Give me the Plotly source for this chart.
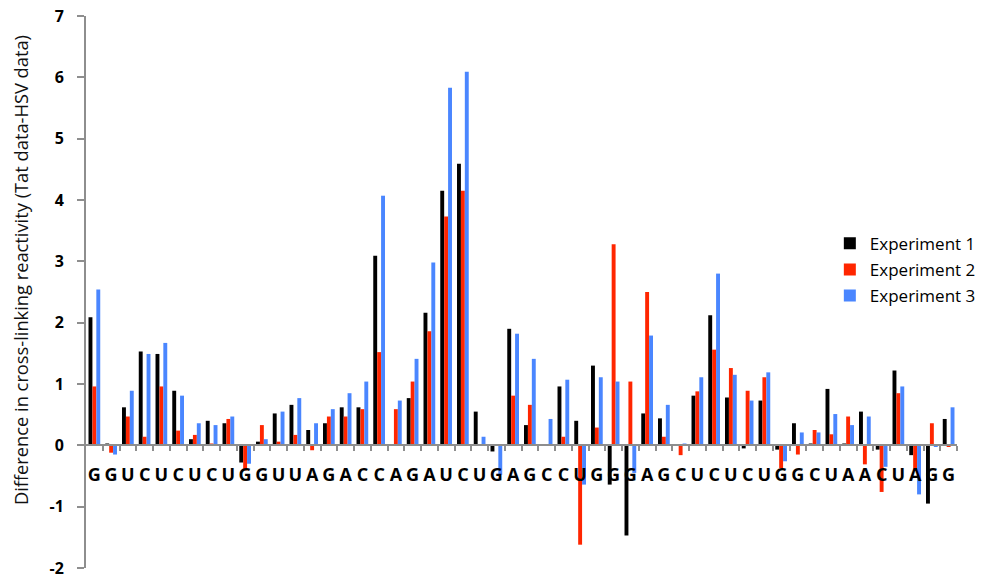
import plotly.graph_objects as go

labels = list("GGUCUCUCUGGUUAGACCAGAUCUGAGCCUGGGAGCUCUCUGGCUAACUAGG")

exp1 = [2.09, 0.03, 0.62, 1.53, 1.49, 0.89, 0.10, 0.40, 0.36, -0.28,
        0.06, 0.52, 0.66, 0.25, 0.36, 0.62, 0.62, 3.09, 0.02, 0.77,
        2.16, 4.15, 4.59, 0.55, -0.10, 1.90, 0.33, 0.02, 0.96, 0.40,
        1.30, -0.64, -1.47, 0.52, 0.44, 0.02, 0.81, 2.12, 0.78, -0.05,
        0.73, -0.07, 0.36, 0.03, 0.92, 0.03, 0.55, -0.07, 1.22, -0.16,
        -0.95, 0.43]
exp2 = [0.96, -0.12, 0.47, 0.14, 0.96, 0.24, 0.17, 0.03, 0.43, -0.41,
        0.33, 0.06, 0.17, -0.08, 0.47, 0.47, 0.59, 1.52, 0.59, 1.04,
        1.86, 3.73, 4.15, 0.02, 0.02, 0.81, 0.66, 0.02, 0.14, -1.62,
        0.29, 3.28, 1.04, 2.50, 0.14, -0.16, 0.88, 1.56, 1.26, 0.89,
        1.11, -0.37, -0.15, 0.25, 0.18, 0.47, -0.31, -0.76, 0.85, -0.42,
        0.36, -0.02]
exp3 = [2.54, -0.15, 0.89, 1.49, 1.67, 0.81, 0.36, 0.33, 0.47, -0.30,
        0.10, 0.55, 0.77, 0.36, 0.59, 0.85, 1.04, 4.07, 0.73, 1.41,
        2.98, 5.83, 6.09, 0.14, -0.48, 1.82, 1.41, 0.43, 1.07, -0.64,
        1.11, 1.04, -0.45, 1.79, 0.66, 0.03, 1.11, 2.80, 1.15, 0.73,
        1.19, -0.26, 0.21, 0.21, 0.51, 0.33, 0.47, -0.35, 0.96, -0.80,
        -0.02, 0.62]

series_names = ["Experiment 1", "Experiment 2", "Experiment 3"]
series_colors = ["#000000", "#ff2600", "#4a86ff"]
y_ticks = [-2, -1, 0, 1, 2, 3, 4, 5, 6, 7]
y_tick_labels = ["-2", "-1", "0", "1", "2", "3", "4", "5", "6", "7"]
y_title = "Difference in cross-linking reactivity (Tat data-HSV data)"
y_min, y_max = -2, 7

x = list(range(len(labels)))
x_range = [-0.5, len(labels) - 0.5]
boundaries = [i + 0.5 for i in x]

fig = go.Figure()
for name, vals, col in zip(series_names, [exp1, exp2, exp3], series_colors):
    fig.add_trace(go.Bar(x=x, y=vals, name=name, marker_color=col,
                         marker_line_width=0, legendgroup=name))
# invisible helper trace so the label axis (x2) is drawn
fig.add_trace(go.Scatter(x=x, y=exp1, xaxis="x2", mode="none",
                         showlegend=False, hoverinfo="skip"))

axis_gray = "#8e8e8e"
zero_pos = (0 - y_min) / (y_max - y_min)
fig.update_layout(
    width=990, height=583,
    margin=dict(l=78, r=41, t=8, b=23),
    plot_bgcolor="white", paper_bgcolor="white",
    barmode="group", bargap=0.3, bargroupgap=0,
    font=dict(family="Open Sans", color="#000000"),
    legend=dict(x=0.854, y=0.62, xanchor="left", yanchor="top",
                font=dict(size=17, family="Open Sans", color="#000"),
                traceorder="grouped", tracegroupgap=1,
                bgcolor="rgba(0,0,0,0)"),
    xaxis=dict(
        range=x_range, automargin=False,
        anchor="free", position=zero_pos,
        tickmode="array", tickvals=boundaries,
        ticktext=["" for _ in boundaries],
        ticks="outside", ticklen=5, tickcolor=axis_gray, tickwidth=2,
        showgrid=False, zeroline=False,
        showline=True, linecolor=axis_gray, linewidth=2,
    ),
    xaxis2=dict(
        range=x_range, overlaying="x", automargin=False,
        anchor="free", position=zero_pos, side="bottom",
        tickmode="array", tickvals=x, ticktext=labels,
        ticks="", showgrid=False, zeroline=False, showline=False,
        tickfont=dict(size=18, family="Open Sans", color="#000", weight=700),
        ticklabelstandoff=17, ticklabeloverflow="allow",
    ),
    yaxis=dict(
        range=[y_min, y_max], automargin=False,
        tickmode="array", tickvals=y_ticks, ticktext=y_tick_labels,
        showgrid=False, zeroline=False,
        showline=True, linecolor=axis_gray, linewidth=2,
        ticks="outside", ticklen=7, tickcolor=axis_gray, tickwidth=2,
        tickfont=dict(size=16, family="Open Sans", color="#000", weight=700),
        ticklabelstandoff=10, ticklabeloverflow="allow",
    ),
    annotations=[dict(
        text=y_title, textangle=-90, showarrow=False,
        xref="paper", yref="paper", x=-0.0744, y=0.54,
        xanchor="center", yanchor="middle",
        font=dict(size=18.3, family="Open Sans", color="#111"),
    )],
)

fig.write_html("out.html")
